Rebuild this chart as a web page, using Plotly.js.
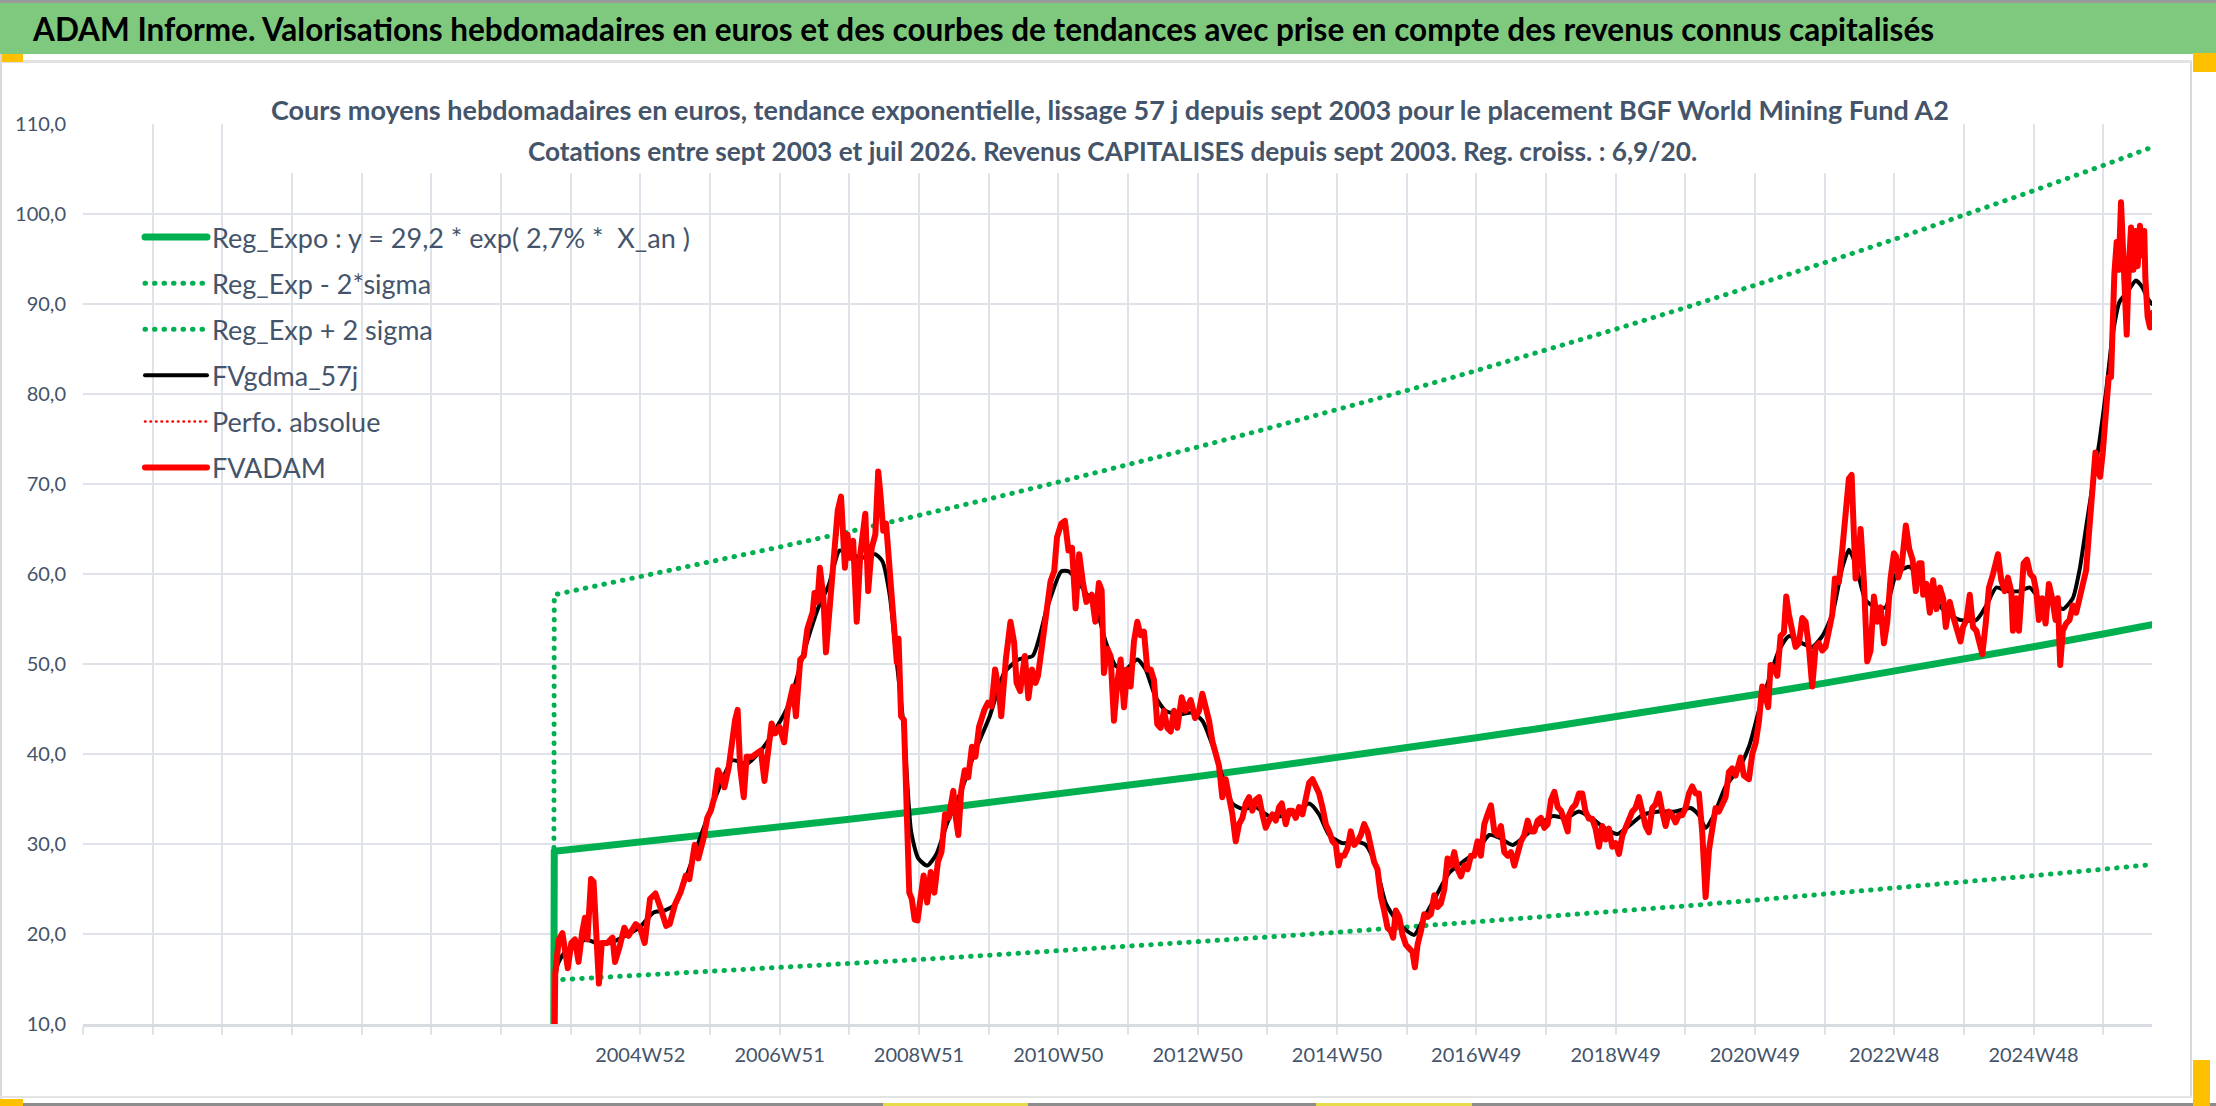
<!DOCTYPE html>
<html><head><meta charset="utf-8">
<script src="https://cdn.plot.ly/plotly-3.0.1.min.js"></script>
<style>
html,body{margin:0;padding:0;background:#fff;overflow:hidden}
#chart{width:2216px;height:1106px}
#chart .js-line{stroke-linecap:round;stroke-linejoin:round}
</style>
</head><body><div id="chart"></div>
<script>
// ---------------- DATA ----------------
const seriesNames = ["Reg_Expo : y = 29,2 * exp( 2,7% *  X_an )", "Reg_Exp - 2*sigma", "Reg_Exp + 2 sigma", "FVgdma_57j", "Perfo. absolue", "FVADAM"];
const tickLabels = ["2004W52","2006W51","2008W51","2010W50","2012W50","2014W50","2016W49","2018W49","2020W49","2022W48","2024W48"];
const mainTitle = "ADAM Informe. Valorisations hebdomadaires en euros et des courbes de tendances avec prise en compte des revenus connus capitalisés";
const subTitle1 = "Cours moyens hebdomadaires en euros, tendance exponentielle, lissage 57 j depuis sept 2003 pour le placement BGF World Mining Fund A2";
const subTitle2 = "Cotations entre sept 2003 et juil 2026. Revenus CAPITALISES depuis sept 2003. Reg. croiss. : 6,9/20.";

// positions on the week-category axis, in 52-week units (gridline = one 52-week step)
const trendX = [2003.755,2003.765,2004,2005,2006,2007,2008,2009,2010,2011,2012,2013,2014,2015,2016,2017,2018,2019,2020,2021,2022,2023,2024,2025,2026,2026.70];
const regExpo = [0,29.2,29.39,30.20,31.02,31.88,32.75,33.65,34.58,35.53,36.50,37.50,38.54,39.59,40.68,41.80,42.95,44.13,45.34,46.59,47.87,49.18,50.53,51.92,53.34,54.36];
const regMinus = [0,14.89,14.99,15.40,15.82,16.26,16.70,17.16,17.64,18.12,18.62,19.13,19.66,20.19,20.75,21.32,21.90,22.51,23.12,23.76,24.41,25.08,25.77,26.48,27.20,27.72];
const regPlus = [0,57.70,58.08,59.68,61.30,63.00,64.71,66.49,68.33,70.21,72.12,74.10,76.16,78.23,80.38,82.60,84.87,87.20,89.59,92.06,94.59,97.18,99.85,102.59,105.40,107.42];

const fvadamX = [2003.755,2003.779,2003.831,2003.882,2003.959,2004.010,2004.062,2004.113,2004.164,2004.205,2004.241,2004.293,2004.329,2004.370,2004.406,2004.447,2004.524,2004.601,2004.637,2004.703,2004.770,2004.832,2004.934,2004.996,2005.063,2005.140,2005.217,2005.294,2005.371,2005.422,2005.499,2005.576,2005.653,2005.704,2005.781,2005.833,2005.910,2005.961,2006.012,2006.064,2006.115,2006.166,2006.207,2006.269,2006.320,2006.361,2006.397,2006.433,2006.485,2006.526,2006.603,2006.680,2006.731,2006.782,2006.834,2006.885,2006.936,2006.998,2007.065,2007.116,2007.193,2007.234,2007.296,2007.347,2007.398,2007.475,2007.501,2007.542,2007.578,2007.629,2007.665,2007.717,2007.758,2007.799,2007.835,2007.881,2007.912,2007.937,2007.973,2008.014,2008.055,2008.107,2008.158,2008.194,2008.230,2008.271,2008.322,2008.374,2008.415,2008.451,2008.487,2008.528,2008.579,2008.630,2008.682,2008.707,2008.743,2008.784,2008.810,2008.836,2008.861,2008.897,2008.938,2008.979,2009.015,2009.067,2009.118,2009.169,2009.221,2009.272,2009.323,2009.375,2009.426,2009.493,2009.529,2009.565,2009.606,2009.657,2009.708,2009.760,2009.811,2009.862,2009.939,2009.991,2010.042,2010.093,2010.145,2010.181,2010.247,2010.314,2010.366,2010.401,2010.453,2010.520,2010.571,2010.622,2010.674,2010.709,2010.761,2010.838,2010.889,2010.941,2010.982,2011.043,2011.095,2011.146,2011.197,2011.249,2011.300,2011.351,2011.403,2011.480,2011.531,2011.583,2011.622,2011.655,2011.703,2011.751,2011.799,2011.847,2011.895,2011.943,2011.990,2012.038,2012.086,2012.134,2012.182,2012.230,2012.278,2012.326,2012.374,2012.421,2012.469,2012.517,2012.565,2012.613,2012.661,2012.709,2012.771,2012.829,2012.900,2012.963,2013.020,2013.068,2013.116,2013.164,2013.212,2013.260,2013.307,2013.355,2013.403,2013.442,2013.499,2013.547,2013.595,2013.643,2013.691,2013.739,2013.786,2013.834,2013.882,2013.930,2013.978,2014.026,2014.074,2014.122,2014.170,2014.208,2014.265,2014.313,2014.361,2014.409,2014.457,2014.505,2014.553,2014.601,2014.649,2014.696,2014.744,2014.792,2014.840,2014.888,2014.936,2014.984,2015.022,2015.056,2015.103,2015.151,2015.199,2015.247,2015.295,2015.343,2015.391,2015.439,2015.487,2015.534,2015.582,2015.630,2015.678,2015.726,2015.774,2015.807,2015.846,2015.894,2015.942,2015.989,2016.037,2016.085,2016.119,2016.157,2016.205,2016.253,2016.301,2016.349,2016.397,2016.444,2016.492,2016.540,2016.588,2016.636,2016.684,2016.732,2016.780,2016.828,2016.875,2016.923,2016.971,2017.019,2017.067,2017.115,2017.163,2017.211,2017.259,2017.307,2017.354,2017.402,2017.450,2017.498,2017.546,2017.594,2017.642,2017.690,2017.738,2017.785,2017.833,2017.881,2017.929,2017.977,2018.025,2018.073,2018.121,2018.169,2018.217,2018.264,2018.312,2018.330,2018.378,2018.426,2018.474,2018.522,2018.569,2018.617,2018.665,2018.713,2018.761,2018.809,2018.856,2018.904,2018.952,2019.000,2019.048,2019.096,2019.144,2019.191,2019.239,2019.287,2019.335,2019.383,2019.431,2019.478,2019.526,2019.574,2019.622,2019.670,2019.718,2019.766,2019.813,2019.861,2019.909,2019.957,2020.005,2020.053,2020.100,2020.148,2020.196,2020.244,2020.292,2020.340,2020.388,2020.435,2020.483,2020.531,2020.579,2020.627,2020.675,2020.722,2020.794,2020.842,2020.914,2020.962,2021.010,2021.057,2021.105,2021.153,2021.191,2021.225,2021.273,2021.321,2021.368,2021.416,2021.450,2021.488,2021.536,2021.584,2021.632,2021.679,2021.727,2021.775,2021.823,2021.871,2021.919,2021.967,2022.014,2022.062,2022.110,2022.148,2022.206,2022.254,2022.301,2022.349,2022.388,2022.421,2022.445,2022.493,2022.517,2022.565,2022.612,2022.660,2022.708,2022.756,2022.804,2022.852,2022.900,2022.947,2022.995,2023.024,2023.057,2023.105,2023.138,2023.167,2023.215,2023.263,2023.310,2023.358,2023.391,2023.415,2023.463,2023.511,2023.558,2023.606,2023.654,2023.702,2023.740,2023.797,2023.845,2023.893,2023.950,2023.988,2024.036,2024.084,2024.131,2024.179,2024.227,2024.265,2024.313,2024.360,2024.418,2024.456,2024.489,2024.537,2024.585,2024.632,2024.680,2024.704,2024.752,2024.790,2024.823,2024.857,2024.905,2024.952,2025.000,2025.038,2025.076,2025.124,2025.172,2025.220,2025.267,2025.315,2025.348,2025.382,2025.420,2025.468,2025.516,2025.563,2025.611,2025.659,2025.706,2025.754,2025.802,2025.850,2025.888,2025.921,2025.955,2025.993,2026.041,2026.079,2026.112,2026.136,2026.160,2026.193,2026.222,2026.255,2026.279,2026.303,2026.337,2026.365,2026.399,2026.432,2026.461,2026.494,2026.527,2026.566,2026.589,2026.604,2026.637,2026.671,2026.699];
const fvadamY = [0,15.6,19.4,20.1,16.2,19.0,19.4,16.9,20.1,21.8,19.4,26.1,25.8,20.9,14.5,19.0,19.0,19.6,16.9,18.6,20.7,19.8,21.1,20.7,19.0,23.9,24.5,22.8,20.9,21.1,23.3,24.6,26.5,26.1,29.9,28.4,30.7,32.9,33.7,35.2,38.2,37.4,36.3,38.5,42.3,43.8,44.9,38.5,35.2,39.7,39.7,40.2,40.4,37.0,40.8,43.4,42.3,43.0,41.3,44.9,47.5,44.2,50.5,50.9,53.9,55.8,57.9,56.9,60.7,57.3,51.3,56.6,59.6,64.4,67.1,68.6,65.2,60.7,64.4,61.8,63.7,54.7,62.2,64.4,66.7,58.1,62.9,64.4,71.4,68.5,64.8,65.6,60.7,54.7,50.2,52.8,44.2,43.8,36.3,30.7,24.6,23.9,21.6,21.5,23.5,26.5,23.5,26.9,24.6,28.0,29.1,33.3,32.9,35.9,32.9,31.0,35.9,38.2,37.4,40.8,39.7,43.0,44.9,45.7,45.3,49.4,47.2,44.2,50.5,54.7,52.4,47.9,47.0,50.9,46.2,49.4,47.9,48.7,51.7,55.8,59.2,60.3,64.1,65.6,65.9,62.6,62.9,56.2,62.2,59.2,56.9,57.7,54.7,59.0,58.2,49.0,51.7,50.9,43.7,47.9,50.5,45.2,49.4,47.5,52.5,54.7,53.2,53.6,49.4,49.4,48.2,43.3,42.9,44.8,42.9,42.5,44.8,42.9,46.3,44.8,46.0,44.0,44.8,46.7,45.2,43.7,41.4,40.2,38.7,35.2,37.2,35.6,33.3,30.3,32.2,32.9,34.5,35.2,33.7,34.9,35.2,33.3,31.8,32.6,33.3,32.6,34.1,34.5,32.2,33.7,33.7,32.9,34.1,33.3,34.9,36.8,37.2,36.4,35.6,34.1,32.2,31.4,30.3,29.9,27.6,28.7,28.7,29.5,31.4,29.9,30.3,31.0,32.2,31.4,29.5,28.0,27.2,24.2,22.6,20.7,20.3,19.6,22.6,21.9,19.9,18.8,18.4,18.0,16.3,18.8,20.3,22.2,21.9,22.2,24.3,23.0,23.4,24.9,28.4,27.6,29.1,27.2,26.4,27.6,27.2,28.7,28.7,30.3,28.7,32.2,33.3,34.3,31.4,31.0,32.0,29.1,28.7,29.1,27.6,29.1,30.3,31.0,32.6,31.4,31.4,32.6,32.9,31.8,32.2,34.9,35.8,34.1,33.7,32.6,31.4,33.2,34.0,34.4,35.6,35.6,33.6,32.8,32.8,31.7,29.7,32.0,30.5,31.7,29.7,30.1,28.9,30.9,31.7,32.8,33.6,34.0,35.2,33.6,32.0,31.3,34.0,34.4,35.6,33.6,32.0,33.6,33.2,32.4,33.2,33.2,34.0,35.6,36.4,35.6,35.6,31.3,24.1,29.3,31.7,34.0,33.6,34.4,35.2,38.0,38.4,37.6,39.6,37.6,37.2,40.0,41.2,43.6,47.5,46.4,45.2,49.9,49.5,48.7,53.1,53.5,57.5,55.5,53.5,51.9,52.3,55.1,54.7,51.9,47.5,51.9,52.3,51.5,51.9,53.5,55.5,59.5,59.1,62.7,66.6,70.6,71.0,65.4,59.5,62.3,65.0,59.1,50.3,51.5,57.5,54.7,56.3,52.3,54.7,59.5,62.3,62.0,59.6,60.8,63.2,65.4,62.8,61.6,58.1,61.2,61.2,57.7,58.9,55.7,59.3,56.1,58.5,57.3,54.1,56.9,55.3,54.1,52.5,54.1,54.9,57.7,54.1,53.7,52.5,51.1,54.5,58.5,60.0,61.2,62.2,59.3,58.1,59.6,58.1,53.7,57.3,53.7,58.9,61.2,61.6,60.0,59.6,58.1,54.9,57.3,54.5,58.9,57.3,54.9,57.3,49.9,53.7,54.5,54.9,56.5,55.7,57.3,59.3,60.4,65.2,70.0,73.5,71.9,70.8,73.5,77.9,81.9,81.9,88.2,93.4,96.9,93.8,101.3,97.7,93.0,86.6,93.8,98.5,93.8,98.1,94.2,98.7,95.4,98.1,93.0,88.6,87.4,89.0];

const gdmaX = [2003.755,2003.805,2003.908,2004.062,2004.216,2004.370,2004.575,2004.780,2004.986,2005.191,2005.345,2005.499,2005.704,2005.910,2006.115,2006.320,2006.526,2006.731,2006.936,2007.142,2007.347,2007.552,2007.706,2007.860,2008.014,2008.168,2008.374,2008.476,2008.579,2008.682,2008.784,2008.887,2008.990,2009.118,2009.246,2009.400,2009.606,2009.811,2010.016,2010.222,2010.427,2010.632,2010.838,2011.043,2011.146,2011.351,2011.557,2011.679,2011.823,2011.967,2012.134,2012.254,2012.398,2012.541,2012.733,2012.924,2013.068,2013.212,2013.355,2013.499,2013.643,2013.834,2014.026,2014.217,2014.409,2014.601,2014.744,2014.888,2015.080,2015.271,2015.415,2015.558,2015.702,2015.894,2016.109,2016.229,2016.421,2016.612,2016.804,2016.995,2017.187,2017.330,2017.522,2017.714,2017.905,2018.097,2018.288,2018.474,2018.665,2018.856,2019.024,2019.191,2019.383,2019.622,2019.861,2020.077,2020.196,2020.292,2020.411,2020.579,2020.770,2020.914,2021.057,2021.201,2021.344,2021.488,2021.679,2021.823,2021.967,2022.110,2022.254,2022.349,2022.445,2022.589,2022.732,2022.876,2023.019,2023.081,2023.224,2023.368,2023.558,2023.749,2023.940,2024.179,2024.322,2024.465,2024.609,2024.800,2024.943,2025.086,2025.277,2025.420,2025.563,2025.659,2025.754,2025.850,2025.945,2026.041,2026.136,2026.232,2026.351,2026.470,2026.566,2026.637,2026.699];
const gdmaY = [0,16.4,17.9,18.6,19.4,19.0,19.0,19.8,20.7,22.4,22.6,23.3,27.3,31.8,35.9,39.3,38.9,40.4,42.7,45.7,51.3,56.2,58.8,62.6,62.2,61.8,62.2,61.4,57.7,50.2,42.7,31.4,28.4,27.6,28.8,32.2,35.9,40.4,44.2,49.0,50.5,50.9,56.2,60.3,60.3,58.4,55.8,52.5,49.8,49.4,50.5,49.4,46.3,44.8,44.4,44.6,43.7,41.0,37.5,34.5,33.9,34.1,33.1,33.1,33.5,34.5,33.3,31.0,30.1,30.3,29.9,27.6,23.4,21.1,19.9,21.5,24.2,26.8,28.0,29.1,31.0,30.7,29.9,31.0,32.2,33.1,32.9,33.6,32.8,31.7,31.1,32.0,33.2,33.6,33.6,34.0,33.2,31.8,33.2,36.4,38.4,40.8,44.8,48.3,51.5,53.1,52.3,51.9,53.1,55.5,60.7,62.7,61.1,57.1,56.3,56.3,59.9,60.4,60.8,59.3,57.3,55.7,54.9,54.9,56.5,58.5,58.1,58.1,58.5,57.3,56.9,56.1,57.3,60.4,65.2,70.0,74.7,80.3,86.6,90.2,91.4,92.6,91.8,90.6,90.0];

// ---------------- LAYOUT HELPERS (pixels -> paper) ----------------
const W = 2216, H = 1106, PL = 83, PR = 2152, PT = 124, PB = 1024;
const px = v => (v - PL) / (PR - PL);
const py = v => (PB - v) / (PB - PT);
const slate = '#44546A';
const gridC = '#dfe2e8';
const FONT = 'Lato, "Open Sans", sans-serif';

function rect(x0, y0, x1, y1, color) {
  return {type:'rect', xref:'paper', yref:'paper', x0:px(x0), x1:px(x1), y0:py(y1), y1:py(y0),
          fillcolor:color, line:{width:0}, layer:'above'};
}

const green = '#00B050';
const dotDash = '0.5px,9px';
const traces = [
  {x: trendX, y: regExpo, name: seriesNames[0], mode:'lines', line:{color:green, width:7}},
  {x: trendX, y: regMinus, name: seriesNames[1], mode:'lines', line:{color:green, width:5, dash:dotDash}},
  {x: trendX, y: regPlus, name: seriesNames[2], mode:'lines', line:{color:green, width:5, dash:dotDash}},
  {x: gdmaX, y: gdmaY, name: seriesNames[3], mode:'lines', line:{color:'#000000', width:4, shape:'spline', smoothing:0.6}},
  {x: [trendX[2]], y: [null], name: seriesNames[4], mode:'lines', line:{color:'#FF0000', width:2.5, dash:'0.5px,5px'}},
  {x: fvadamX, y: fvadamY, name: seriesNames[5], mode:'lines', line:{color:'#FF0000', width:6}}
];
traces.forEach((t, i) => { t.legendgroup = 'g' + i; t.hoverinfo = 'skip'; });

const tickVals = [], tickText = [];
for (let k = 1997; k <= 2026; k++) {
  tickVals.push(k);
  const idx = (k - 2005) / 2;
  tickText.push(Number.isInteger(idx) && idx >= 0 && idx < tickLabels.length ? tickLabels[idx] : '');
}

const shapes = [
  rect(0, 0, W, 3, '#9a9a9a'),
  rect(0, 3, W, 54, '#7fc97f'),
  rect(0, 60, 2192, 63, '#e3e3e3'),
  rect(0, 54, 23, 62, '#ffc000'),
  rect(2193, 53, W, 72, '#ffc000'),
  rect(0, 54, 2, H, '#d9d9d9'),
  rect(2190, 62, 2192, 1098, '#d9d9d9'),
  rect(0, 1096, 2192, 1098, '#e3e3e3'),
  rect(0, 1103, W, H, '#8c8c8c'),
  rect(0, 1099, 23, H, '#ffc000'),
  rect(2193, 1060, 2210, H, '#ffc000'),
  rect(883, 1103, 1028, H, '#e6dc4a'),
  rect(1316, 1103, 1472, H, '#e6dc4a'),
  rect(262, 84, 1946, 173, '#ffffff')
];

const annotations = [
  {xref:'paper', yref:'paper', x:px(30), y:py(29), xanchor:'left', yanchor:'middle', showarrow:false,
   text:'<b>' + mainTitle + '</b>', font:{family:FONT, size:31.5, color:'#000000'}},
  {xref:'paper', yref:'paper', x:px(1110), y:py(109), xanchor:'center', yanchor:'middle', showarrow:false,
   text:'<b>' + subTitle1 + '</b>', font:{family:FONT, size:27, color:slate}},
  {xref:'paper', yref:'paper', x:px(1112), y:py(151), xanchor:'center', yanchor:'middle', showarrow:false,
   text:'<b>' + subTitle2 + '</b>', font:{family:FONT, size:26.2, color:slate}}
];

const layout = {
  width: W, height: H,
  margin: {l: PL, r: W - PR, t: PT, b: H - PB, pad: 0},
  paper_bgcolor: '#ffffff', plot_bgcolor: '#ffffff',
  separators: ', ',
  showlegend: true,
  legend: {x: px(140), y: py(213), xanchor:'left', yanchor:'top', bgcolor:'rgba(0,0,0,0)',
           font:{family:FONT, size:27, color:slate}, itemwidth: 62, traceorder:'grouped', tracegroupgap: 8},
  xaxis: {range:[1997, 2026.70], tickmode:'array', tickvals: tickVals, ticktext: tickText,
          showgrid:true, gridcolor:gridC, gridwidth:2, zeroline:false,
          ticks:'outside', ticklen:8, tickwidth:2, tickcolor:gridC,
          showline:true, linecolor:'#d8dce2', linewidth:3,
          tickfont:{family:FONT, size:20, color:slate}, ticklabelstandoff: 3, fixedrange:true},
  yaxis: {range:[10, 110], tick0:10, dtick:10, tickformat:'.1f',
          showgrid:true, gridcolor:gridC, gridwidth:2, zeroline:false, ticks:'',
          tickfont:{family:FONT, size:20, color:slate}, ticklabelstandoff: 16, fixedrange:true},
  shapes: shapes,
  annotations: annotations
};

Plotly.newPlot('chart', traces, layout, {displayModeBar:false, staticPlot:true});
</script></body></html>
